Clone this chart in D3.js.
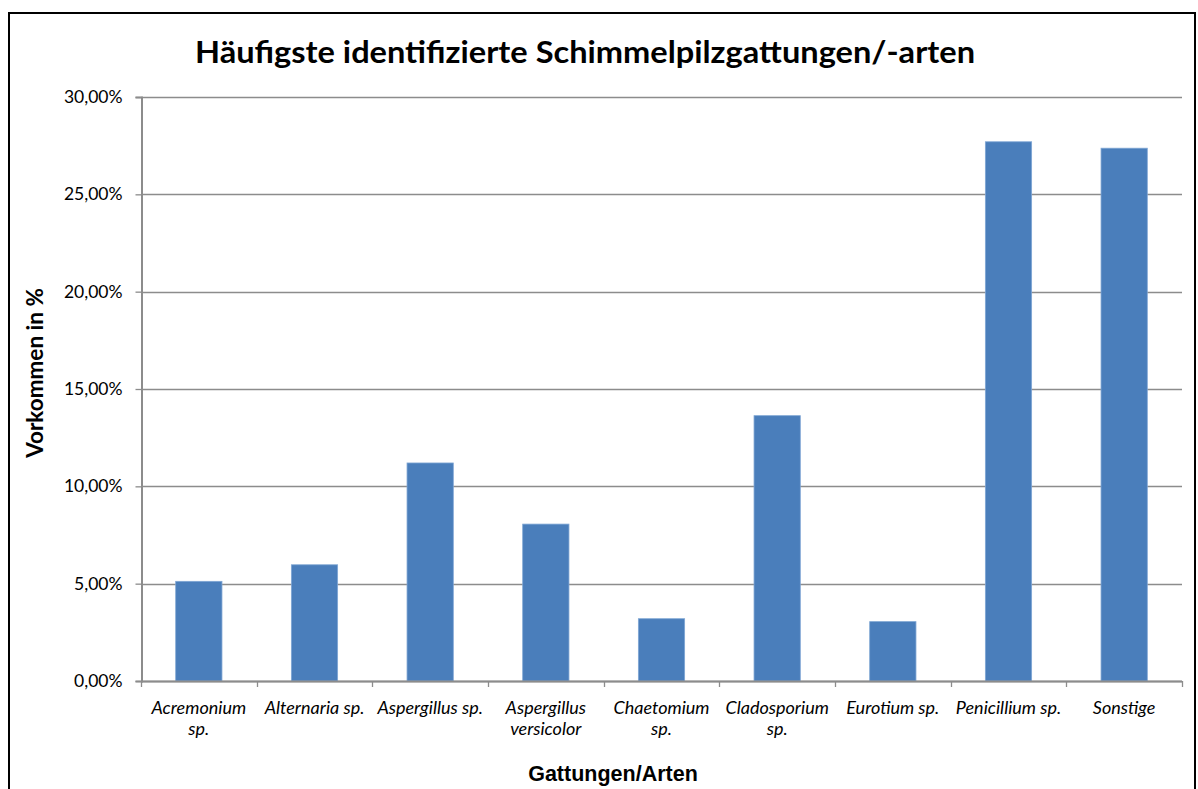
<!DOCTYPE html>
<html>
  <head>
    <meta charset="utf-8">
    <title>Häufigste identifizierte Schimmelpilzgattungen/-arten</title>
    <script src="https://d3js.org/d3.v7.min.js"></script>
    <style>
      body { margin: 0; background: #fff; }
      svg { display: block; }
    </style>
  </head>
  <body>
    <div id="chart"></div>
    <script>
      // data
      var categories = [
        ["Acremonium", "sp."],
        ["Alternaria sp."],
        ["Aspergillus sp."],
        ["Aspergillus", "versicolor"],
        ["Chaetomium", "sp."],
        ["Cladosporium", "sp."],
        ["Eurotium sp."],
        ["Penicillium sp."],
        ["Sonstige"]
      ];
      var values = [5.12, 5.97, 11.2, 8.06, 3.2, 13.63, 3.05, 27.7, 27.37];
      var yTicks = [0, 5, 10, 15, 20, 25, 30];

      var width = 1198;
      var height = 789;
      var margin = { top: 97, right: 16, bottom: 108, left: 141 };

      var svg = d3.select("#chart")
        .append("svg")
        .attr("width", width)
        .attr("height", height);

      // outer frame
      svg.append("rect")
        .attr("x", 9)
        .attr("y", 13)
        .attr("width", 1186)
        .attr("height", 800)
        .attr("fill", "none")
        .attr("stroke", "#000")
        .attr("stroke-width", 2);

      var x = d3.scaleBand()
        .domain(d3.range(categories.length))
        .range([margin.left, width - margin.right])
        .paddingInner(0.6)
        .paddingOuter(0.3);

      var y = d3.scaleLinear()
        .domain([0, 30])
        .range([height - margin.bottom, margin.top]);

      // gridlines
      svg.append("g")
        .selectAll("line")
        .data(yTicks)
        .enter()
        .append("line")
        .attr("x1", margin.left)
        .attr("x2", width - margin.right)
        .attr("y1", function(d) { return Math.round(y(d)) + 0.5; })
        .attr("y2", function(d) { return Math.round(y(d)) + 0.5; })
        .attr("stroke", "#8c8c8c")
        .attr("stroke-width", 1.3);

      // bars
      svg.append("g")
        .selectAll("rect")
        .data(values)
        .enter()
        .append("rect")
        .attr("x", function(d, i) { return x(i); })
        .attr("y", function(d) { return y(d); })
        .attr("width", x.bandwidth())
        .attr("height", function(d) { return y(0) - y(d); })
        .attr("fill", "#4a7ebb")
        .attr("stroke", "#7fa6d4")
        .attr("stroke-width", 0.8);

      // y axis
      var yAxis = d3.axisLeft(y)
        .tickValues(yTicks)
        .tickSize(6)
        .tickPadding(13)
        .tickFormat(function(d) { return d3.format(".2f")(d).replace(".", ",") + "%"; });

      var gy = svg.append("g")
        .attr("transform", "translate(" + (margin.left + 0.5) + ",0)")
        .call(yAxis);
      gy.select(".domain").attr("stroke", "#8c8c8c").attr("stroke-width", 2);
      gy.selectAll(".tick line").attr("stroke", "#8c8c8c").attr("stroke-width", 1.3);
      gy.selectAll(".tick text")
        .attr("fill", "#000")
        .style("font-family", "Lato, 'Open Sans', sans-serif")
        .style("font-size", "17.5px");

      // x axis: category boundary ticks
      var bounds = d3.range(categories.length + 1).map(function(i) {
        return margin.left + i * (width - margin.right - margin.left) / categories.length;
      });
      svg.append("line")
        .attr("x1", margin.left)
        .attr("x2", width - margin.right)
        .attr("y1", y(0) + 0.5)
        .attr("y2", y(0) + 0.5)
        .attr("stroke", "#8c8c8c")
        .attr("stroke-width", 2);
      svg.append("g")
        .selectAll("line")
        .data(bounds)
        .enter()
        .append("line")
        .attr("x1", function(d) { return Math.round(d) + 0.5; })
        .attr("x2", function(d) { return Math.round(d) + 0.5; })
        .attr("y1", y(0))
        .attr("y2", y(0) + 6)
        .attr("stroke", "#8c8c8c")
        .attr("stroke-width", 1.3);

      // category labels
      var labels = svg.append("g")
        .selectAll("text")
        .data(categories)
        .enter()
        .append("text")
        .attr("x", function(d, i) { return x(i) + x.bandwidth() / 2; })
        .attr("y", y(0) + 33)
        .attr("text-anchor", "middle")
        .style("font-family", "Lato, 'Open Sans', sans-serif")
        .style("font-style", "italic")
        .style("font-size", "18px");
      labels.selectAll("tspan")
        .data(function(d) { return d; })
        .enter()
        .append("tspan")
        .attr("x", function() { return this.parentNode.getAttribute("x"); })
        .attr("dy", function(d, i) { return i === 0 ? 0 : 21; })
        .text(function(d) { return d; });

      // title
      svg.append("text")
        .attr("x", 585)
        .attr("y", 63)
        .attr("text-anchor", "middle")
        .attr("textLength", 780)
        .attr("lengthAdjust", "spacingAndGlyphs")
        .style("font-family", "Lato, 'Open Sans', sans-serif")
        .style("font-weight", "bold")
        .style("font-size", "31px")
        .text("Häufigste identifizierte Schimmelpilzgattungen/-arten");

      // y axis title
      svg.append("text")
        .attr("transform", "translate(43,373) rotate(-90)")
        .attr("text-anchor", "middle")
        .style("font-family", "Lato, 'Open Sans', sans-serif")
        .style("font-weight", "bold")
        .style("font-size", "22.5px")
        .text("Vorkommen in %");

      // x axis title
      svg.append("text")
        .attr("x", 613)
        .attr("y", 781)
        .attr("text-anchor", "middle")
        .style("font-family", "'Liberation Sans', Arial, sans-serif")
        .style("font-weight", "bold")
        .style("font-size", "21.5px")
        .text("Gattungen/Arten");
    </script>
  </body>
</html>
